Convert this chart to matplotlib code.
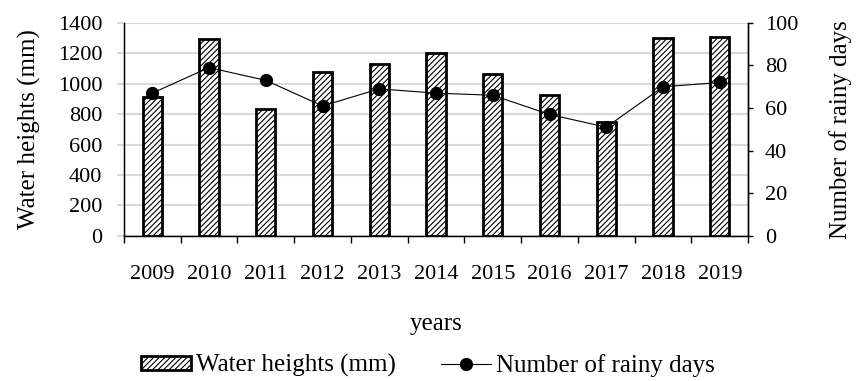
import numpy as np
import matplotlib
matplotlib.use("Agg")
import matplotlib.pyplot as plt
from matplotlib.ticker import FixedLocator

years = ["2009", "2010", "2011", "2012", "2013", "2014",
         "2015", "2016", "2017", "2018", "2019"]
water_mm = [912, 1293, 835, 1074, 1131, 1201, 1067, 927, 747, 1301, 1308]
rainy_days = [67, 79, 73, 61, 69, 67, 66, 57, 51, 70, 72]

plt.rcParams["font.family"] = ["Liberation Serif", "DejaVu Serif"]
plt.rcParams["hatch.linewidth"] = 0.8

fig = plt.figure(figsize=(8.6, 3.81), dpi=100)
ax = fig.add_axes([0.144, 0.381, 0.726, 0.559])
x = np.arange(len(years))

ax.set_axisbelow(True)
ax.grid(axis="y", color="#d9d9d9", linewidth=1.5)
bars = ax.bar(x, water_mm, width=0.34, color="white", edgecolor="black",
              linewidth=2, hatch="//////", label="Water heights (mm)")
ax.set_ylim(0, 1400)
ax.set_yticks(range(0, 1401, 200))
ax.set_xlim(-0.5, len(years) - 0.5)
ax.set_xticks(x)
ax.set_xticklabels(years)
ax.xaxis.set_minor_locator(FixedLocator(np.arange(-0.5, len(years), 1)))
ax.tick_params(axis="x", which="major", length=0, pad=21, labelsize=16)
ax.tick_params(axis="x", which="minor", length=5, width=1, direction="out")
ax.tick_params(axis="y", length=5, width=1.5, color="#d9d9d9",
               labelsize=16, pad=10.5)
ax.spines["top"].set_visible(False)
for s in ("left", "bottom", "right"):
    ax.spines[s].set_linewidth(1)
ax.set_ylabel("Water heights (mm)", fontsize=18, labelpad=12)
ax.set_xlabel("years", fontsize=18, labelpad=21)

ax2 = ax.twinx()
line, = ax2.plot(x, rainy_days, color="black", linewidth=0.8, marker="o",
                 markersize=8.5, label="Number of rainy days")
ax2.set_ylim(0, 100)
ax2.set_yticks(range(0, 101, 20))
ax2.tick_params(axis="y", length=3.6, width=1, direction="out",
                labelsize=16, pad=8.5)
ax2.spines["top"].set_visible(False)
ax2.spines["right"].set_linewidth(1)
ax2.set_ylabel("Number of rainy days", fontsize=18, labelpad=22)

fig.legend([bars, line], ["Water heights (mm)", "Number of rainy days"],
           loc="center", bbox_to_anchor=(0.498, 0.04), ncol=2, frameon=False,
           fontsize=18, handlelength=2.0, handleheight=0.45,
           handletextpad=0.2, columnspacing=1.8)

fig.savefig("out.png", dpi=100)
